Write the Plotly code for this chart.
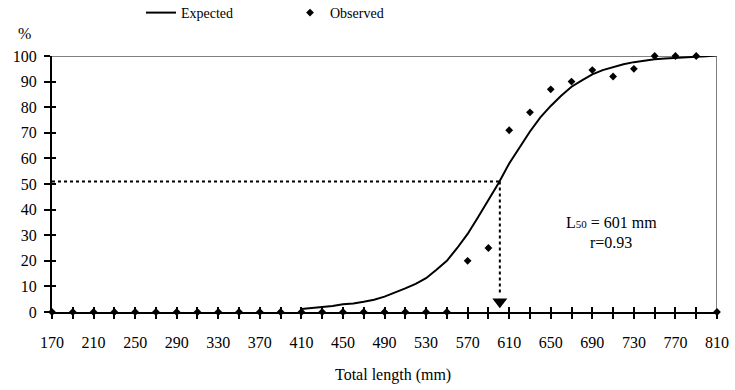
import plotly.graph_objects as go

# ---------------- data ----------------
obs_length = [170, 190, 210, 230, 250, 270, 290, 310, 330, 350, 370, 390, 410, 430, 450,
              470, 490, 510, 530, 550, 570, 590, 610, 630, 650, 670, 690, 710, 730, 750,
              770, 790, 810]
obs_pct = [0, 0, 0, 0, 0, 0, 0, 0, 0, 0, 0, 0, 0, 0, 0,
           0, 0, 0, 0, 0, 20, 25, 71, 78, 87, 90, 94.5, 92, 95, 100,
           100, 100, 0]

exp_length = [410, 420, 430, 440, 450, 460, 470, 480, 490, 500, 510, 520, 530, 540, 550,
              560, 570, 580, 590, 600, 610, 620, 630, 640, 650, 660, 670, 680, 690, 700,
              710, 720, 730, 740, 750, 760, 770, 780, 790, 800, 810]
exp_pct = [1.2, 1.5, 1.8, 2.3, 3.0, 3.3, 4.0, 4.8, 6.0, 7.5, 9.2, 11.0, 13.2, 16.5, 20.0,
           25.0, 30.5, 37.0, 43.5, 50.5, 58.0, 64.5, 70.5, 76.0, 80.5, 84.5, 88.0, 90.5, 92.8, 94.5,
           95.8, 96.8, 97.6, 98.2, 98.7, 99.0, 99.3, 99.5, 99.7, 99.9, 100.3]

x_tick_labels = [170, 210, 250, 290, 330, 370, 410, 450, 490, 530, 570, 610, 650, 690, 730, 770, 810]
y_tick_labels = [0, 10, 20, 30, 40, 50, 60, 70, 80, 90, 100]

L50 = 601
P50 = 51
arrow_tip = 4
x_min, x_max = 170, 810
y_min, y_max = 0, 100

FONT = "Liberation Serif"

W, H = 735, 390
plot_l, plot_r, plot_t, plot_b = 52, 18, 56, 78
pw = W - plot_l - plot_r
ph = H - plot_t - plot_b


def px_to_paper(px, py):
    return (px - plot_l) / pw, (H - plot_b - py) / ph


fig = go.Figure()

fig.add_trace(go.Scatter(
    x=exp_length, y=exp_pct, mode="lines", name="Expected",
    line=dict(color="black", width=2), cliponaxis=False,
))
fig.add_trace(go.Scatter(
    x=obs_length, y=obs_pct, mode="markers", name="Observed",
    marker=dict(symbol="diamond", size=6, color="black"), cliponaxis=False,
))
# arrow head of the L50 drop line
fig.add_trace(go.Scatter(
    x=[L50], y=[arrow_tip], mode="markers", showlegend=False, hoverinfo="skip",
    marker=dict(symbol="triangle-down", size=13, color="black"), cliponaxis=False,
))
# overlay axes carrying the inside halves of the crossing ticks
fig.add_trace(go.Scatter(x=[x_min], y=[y_min], xaxis="x2", yaxis="y2", mode="markers",
                         marker=dict(opacity=0), showlegend=False, hoverinfo="skip"))

# dotted L50 lines
fig.add_shape(type="line", x0=x_min, x1=L50, y0=P50, y1=P50,
              line=dict(color="black", width=2, dash="dot"))
fig.add_shape(type="line", x0=L50, x1=L50, y0=P50, y1=arrow_tip + 3,
              line=dict(color="black", width=2, dash="dot"))
# grey top/right frame
fig.add_shape(type="line", x0=x_min, x1=x_max, y0=y_max, y1=y_max,
              line=dict(color="#808080", width=2), layer="below")
fig.add_shape(type="line", x0=x_max, x1=x_max, y0=y_min, y1=y_max,
              line=dict(color="#808080", width=2), layer="below")

fig.add_annotation(x=708, y=35, xref="x", yref="y", showarrow=False,
                   text="L<span style='font-size:11px'>50</span> = 601 mm",
                   font=dict(family=FONT, size=16, color="black"))
fig.add_annotation(x=708, y=27, xref="x", yref="y", showarrow=False,
                   text="r=0.93", font=dict(family=FONT, size=16, color="black"))
pct_x, pct_y = px_to_paper(25, 33)
fig.add_annotation(x=pct_x, y=pct_y, xref="paper", yref="paper", showarrow=False,
                   xanchor="center", yanchor="middle",
                   text="%", font=dict(family=FONT, size=16, color="black"))
tt_x, tt_y = px_to_paper(393, 375)
fig.add_annotation(x=tt_x, y=tt_y, xref="paper", yref="paper", showarrow=False,
                   text="Total length (mm)", xanchor="center", yanchor="middle",
                   font=dict(family=FONT, size=16, color="black"))

axis_common = dict(showgrid=False, zeroline=False, color="black", automargin=False)

fig.update_layout(
    width=W, height=H,
    margin=dict(l=plot_l, r=plot_r, t=plot_t, b=plot_b, autoexpand=False),
    paper_bgcolor="white", plot_bgcolor="white",
    font=dict(family=FONT, size=16, color="black"),
    showlegend=True,
    legend=dict(orientation="h", x=141 / W, y=1 - 13 / H, xref="container", yref="container",
                xanchor="left", yanchor="middle",
                entrywidth=104, entrywidthmode="pixels",
                font=dict(family=FONT, size=14), bgcolor="rgba(0,0,0,0)"),
    xaxis=dict(range=[x_min, x_max], tickvals=x_tick_labels, ticks="outside", ticklen=5,
               tickwidth=2, tickcolor="black", showline=True, linecolor="black", linewidth=2,
               ticklabelstandoff=10,
               minor=dict(dtick=20, tick0=170, ticks="outside", ticklen=5, tickwidth=2,
                          tickcolor="black"),
               **axis_common),
    yaxis=dict(range=[y_min, y_max], tickvals=y_tick_labels, ticks="outside", ticklen=6,
               tickwidth=2, tickcolor="black", showline=True, linecolor="black", linewidth=2,
               ticklabelstandoff=4, **axis_common),
    xaxis2=dict(overlaying="x", matches="x", range=[x_min, x_max], tickvals=x_tick_labels,
                ticks="inside", ticklen=5, tickwidth=2, tickcolor="black",
                showticklabels=False, showline=False,
                minor=dict(dtick=20, tick0=170, ticks="inside", ticklen=5, tickwidth=2,
                           tickcolor="black"),
                **axis_common),
    yaxis2=dict(overlaying="y", matches="y", range=[y_min, y_max], tickvals=y_tick_labels,
                ticks="inside", ticklen=4, tickwidth=2, tickcolor="black",
                showticklabels=False, showline=False, **axis_common),
)

fig.write_html("out.html")
